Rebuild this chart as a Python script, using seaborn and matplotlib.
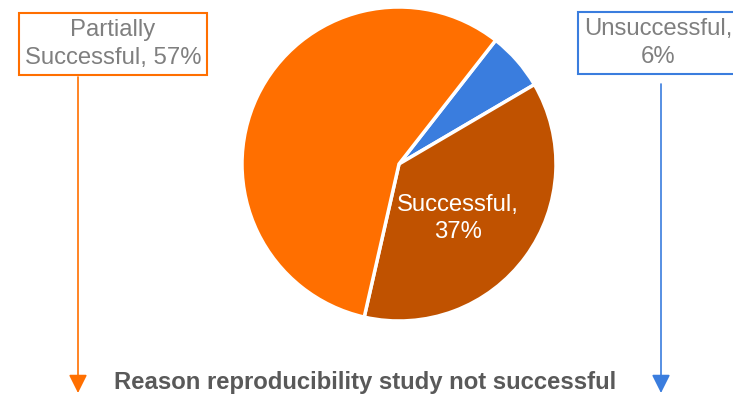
import matplotlib
matplotlib.use("Agg")
import matplotlib.pyplot as plt
from matplotlib.patches import FancyArrowPatch
import seaborn as sns

categories = ["Unsuccessful", "Successful", "Partially Successful"]
shares = [6, 37, 57]
colors = ["#3A7DDE", "#C05200", "#FF6F00"]
title = "Reason reproducibility study not successful"

sns.set_theme(style="white")
plt.rcParams["font.family"] = ["Liberation Sans", "DejaVu Sans"]

W, H = 733, 396
fig = plt.figure(figsize=(W / 100, H / 100), dpi=100)
fig.patch.set_facecolor("white")

# pie placed in pixel space: centre (399, 164), radius 157
cx, cy, r = 399, 164, 157
ax = fig.add_axes([(cx - r) / W, (H - cy - r) / H, 2 * r / W, 2 * r / H])
wedges, _ = ax.pie(shares, colors=colors, startangle=52, counterclock=False,
                   wedgeprops=dict(edgecolor="white", linewidth=2.5))
ax.set_xlim(-1.0, 1.0)
ax.set_ylim(-1.0, 1.0)
ax.set_aspect("equal")
ax.axis("off")

fs = 17.2
ls = 1.3

# label inside the "Successful" wedge
ax.text(0.375, -0.345, f"{categories[1]},\n{shares[1]}%", color="white",
        fontsize=fs, ha="center", va="center", linespacing=ls)

def fx(x):
    return x / W

def fy(y):
    return 1 - y / H

label_gray = "#7F7F7F"
first, rest = categories[2].split(" ", 1)

# boxed call-out labels with arrows pointing down
fig.text(fx(113), fy(44), f"{first}\n{rest}, {shares[2]}%",
         color=label_gray, fontsize=fs, ha="center", va="center", linespacing=ls,
         bbox=dict(boxstyle="square,pad=0.25", fc="white", ec=colors[2], lw=1.5))
fig.text(fx(658), fy(43), f"{categories[0]},\n{shares[0]}%",
         color=label_gray, fontsize=fs, ha="center", va="center", linespacing=ls,
         bbox=dict(boxstyle="square,pad=0.25", fc="white", ec=colors[0], lw=1.5))

for x0, y0, col in [(78, 77, colors[2]), (661, 84, colors[0])]:
    arr = FancyArrowPatch((fx(x0), fy(y0)), (fx(x0), fy(393)),
                          transform=fig.transFigure, arrowstyle="-|>,head_length=7,head_width=3.5",
                          color=col, lw=1.2, shrinkA=0, shrinkB=0, mutation_scale=1.6)
    fig.add_artist(arr)

fig.text(fx(365), fy(382), title, color="#595959", fontsize=fs,
         fontweight="bold", ha="center", va="center")

fig.savefig("out.png", dpi=100, facecolor="white")
